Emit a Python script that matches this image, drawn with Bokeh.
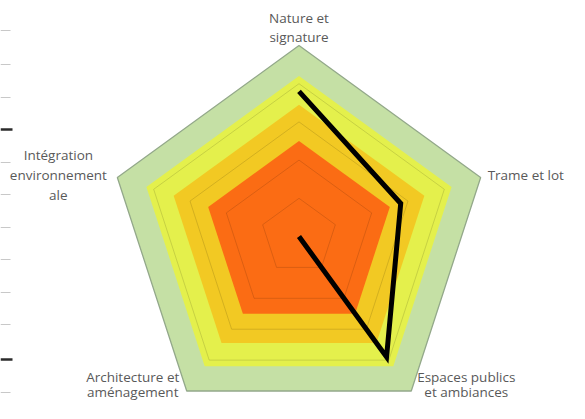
import numpy as np
from bokeh.plotting import figure
from bokeh.core.properties import value
from bokeh.embed import file_html
from bokeh.resources import INLINE

# ---- data ----
axes_labels = ["Nature et\nsignature", "Trame et lot", "Espaces publics\net ambiances",
               "Architecture et\naménagement", "Intégration\nenvironnement\nale"]
zone_levels = [5.0, 4.2, 3.45, 2.5]
zone_colors = ["#c5e0a5", "#e4f04c", "#f2c923", "#fb6c14"]
grid_levels = [1, 2, 3, 4]
axis_max = 5
score = [3.8, 2.8, 3.9, 0.0, np.nan]
ruler_ticks = [5, 38, 72, 105, 137, 170, 202, 235, 267, 300, 332, 367, 400]
ruler_major = [1, 0, 0, 0, 1, 0, 0, 0, 0, 0, 0, 1, 0]

# ---- geometry ----
W, H = 569, 403
cx_px, cy_px = 306.5 - 8, 244 - 8
ppu = 191 / axis_max
n = len(axes_labels)
ang = np.deg2rad(90 - 72 * np.arange(n))

p = figure(width=W, height=H, output_backend="svg", toolbar_location=None,
           x_range=(-cx_px / ppu, (W - cx_px) / ppu),
           y_range=(-(H - cy_px) / ppu, cy_px / ppu),
           min_border=0, outline_line_color=None, background_fill_color="white")
p.axis.visible = False
p.grid.visible = False

def poly(vals):
    v = np.asarray(vals, dtype=float)
    return list(v * np.cos(ang)), list(v * np.sin(ang))

for lev, col in zip(zone_levels, zone_colors):
    xs, ys = poly([lev] * n)
    p.patch(xs, ys, fill_color=col, line_color=None)

for g in grid_levels:
    xs, ys = poly([g] * n)
    p.line(xs + xs[:1], ys + ys[:1], line_color="black", line_alpha=0.13, line_width=1)

xs, ys = poly([axis_max] * n)
p.line(xs + xs[:1], ys + ys[:1], line_color="#93a88a", line_width=1.3)

sx, sy = poly(score)
p.line(sx, sy, line_color="black", line_width=5, line_join="miter")

# labels (one text per line, anchored at the outer vertex with pixel offsets)
vx, vy = poly([axis_max] * n)
offs = [(0, -18, 19, "center"), (7, -2, 19, "left"), (55, -7, 15, "center"),
        (-54, -7, 15, "center"), (-59, -2, 20, "center")]
for i in range(n):
    ox, oy, lh, al = offs[i]
    lines = axes_labels[i].split("\n")
    k = len(lines)
    for j, ln in enumerate(lines):
        dy = oy + (j - (k - 1) / 2) * lh
        p.text(x=[vx[i]], y=[vy[i]], text=[ln], x_offset=ox, y_offset=dy,
               text_align=al, text_baseline="middle", text_font=value("Open Sans"),
               text_font_size="13.5px", text_color="#595959")

# decorative ruler on the left page edge
for t, mj in zip(ruler_ticks, ruler_major):
    yd = (cy_px - (t - 8)) / ppu
    x0 = -cx_px / ppu
    p.segment(x0=[x0], y0=[yd], x1=[x0 + (12 if mj else 10) / ppu], y1=[yd],
              line_color="#2b2b2b" if mj else "#c8c8c8", line_width=2.5 if mj else 1.2)

open("out.html", "w").write(file_html(p, INLINE))
